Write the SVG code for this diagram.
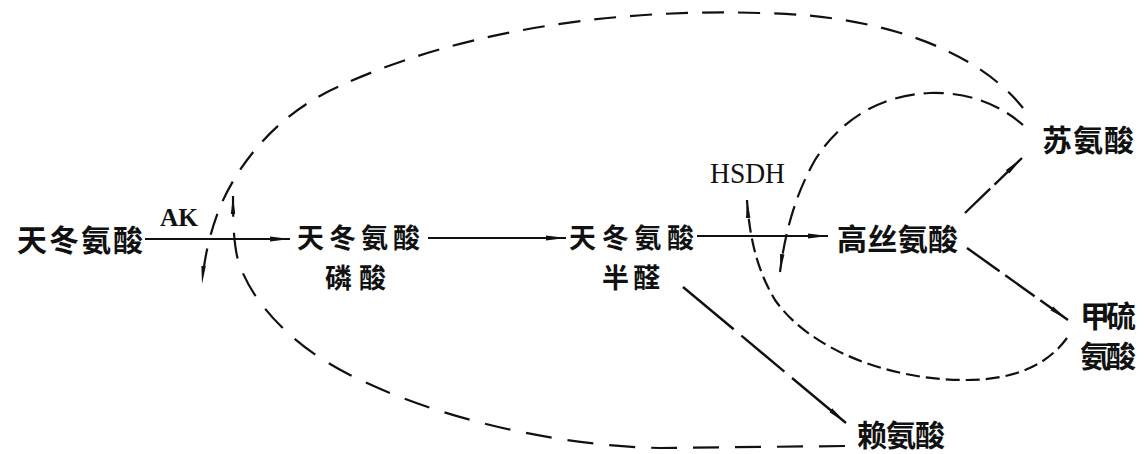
<svg xmlns="http://www.w3.org/2000/svg" width="1144" height="454" viewBox="0 0 1144 454">
  <style>
    .cn { font-family: "Noto Sans CJK SC", "Noto Sans CJK TC", sans-serif; font-size: 30px; font-weight: 700; fill: #111; }
    .c2 { font-size: 27px; }
    .lb { font-family: "Liberation Serif", "DejaVu Serif", serif; fill: #111; }
    .main { fill: none; stroke: #111; stroke-width: 2; }
    .br { fill: none; stroke: #111; stroke-width: 2.4; }
    .fb { fill: none; stroke: #111; stroke-width: 2.2; }
    .big { stroke-dasharray: 22 14; }
    .bot { stroke-dasharray: 26 16; }
    .inT { stroke-dasharray: 20 9; }
    .inB { stroke-dasharray: 14 6; }
  </style>
  <defs>
    <marker id="ah" viewBox="0 0 20 6" refX="20" refY="3" markerWidth="20" markerHeight="6" markerUnits="userSpaceOnUse" orient="auto">
      <path d="M0,0.6 L20,3 L0,5.4 Z" fill="#111"/>
    </marker>
    <marker id="ahs" viewBox="0 0 18 6" refX="18" refY="3" markerWidth="18" markerHeight="6" markerUnits="userSpaceOnUse" orient="auto">
      <path d="M0,0.8 L18,3 L0,5.2 Z" fill="#111"/>
    </marker>
  </defs>
  <rect width="1144" height="454" fill="#fff"/>

  <g id="connectors">
    <!-- main pathway -->
    <path class="main" d="M145,239 L290,239" marker-end="url(#ah)"/>
    <path class="main" d="M428,238 L566,238" marker-end="url(#ah)"/>
    <path class="main" d="M697,236 L828,236" marker-end="url(#ah)"/>
    <!-- branches -->
    <path class="br" d="M683,287 L846,423" stroke-dasharray="66 10 56 10 80" marker-end="url(#ah)"/>
    <path class="br" d="M965,213 L1022,158" stroke-dasharray="35 6 60" marker-end="url(#ah)"/>
    <path class="br" d="M967,248 L1068,320" stroke-dasharray="40 7 36 7 60" marker-end="url(#ah)"/>
    <!-- feedback: threonine -> AK -->
    <path class="fb big" d="M1023,108 C985,60 900,15 760,13 C600,8 450,35 340,86 C280,112 240,160 220,207 C212,228 205,250 202,284" marker-end="url(#ahs)"/>
    <!-- feedback: lysine -> AK -->
    <path class="fb bot" d="M845,446 L660,448 C560,446 440,420 350,375 C290,345 250,300 238,260 C234,245 233,225 233,196" marker-end="url(#ahs)"/>
    <!-- feedback: threonine -> HSDH -->
    <path class="fb inT" d="M1023,125 C1000,105 970,92 930,93 C880,95 840,120 815,160 C798,190 786,225 780,272" marker-end="url(#ahs)"/>
    <!-- feedback: methionine -> HSDH -->
    <path class="fb inB" d="M1067,338 C1045,368 1010,380 965,380 C890,380 810,350 775,300 C760,275 750,245 747,200" marker-end="url(#ahs)"/>
    <!-- enzyme labels -->
    <text class="lb" x="160" y="226" font-size="26" font-weight="700" textLength="38" lengthAdjust="spacingAndGlyphs">AK</text>
    <text class="lb" x="710" y="183" font-size="29" textLength="75" lengthAdjust="spacingAndGlyphs">HSDH</text>
  </g>

  <g id="n-asp">
    <text class="cn" x="17" y="251" textLength="126" lengthAdjust="spacing">天冬氨酸</text>
  </g>
  <g id="n-asp-p">
    <text class="cn c2" x="297" y="248" textLength="123" lengthAdjust="spacing">天冬氨酸</text>
    <text class="cn c2" x="325" y="288" textLength="61" lengthAdjust="spacing">磷酸</text>
  </g>
  <g id="n-asa">
    <text class="cn c2" x="569" y="248" textLength="125" lengthAdjust="spacing">天冬氨酸</text>
    <text class="cn c2" x="602" y="288" textLength="58" lengthAdjust="spacing">半醛</text>
  </g>
  <g id="n-hse">
    <text class="cn" x="837" y="250" textLength="121" lengthAdjust="spacing">高丝氨酸</text>
  </g>
  <g id="n-thr">
    <text class="cn" x="1042" y="151" textLength="92" lengthAdjust="spacing">苏氨酸</text>
  </g>
  <g id="n-met">
    <text class="cn" x="1080" y="327" font-size="25" textLength="56" lengthAdjust="spacing">甲硫</text>
    <text class="cn" x="1080" y="367" font-size="25" textLength="56" lengthAdjust="spacing">氨酸</text>
  </g>
  <g id="n-lys">
    <text class="cn" x="857" y="446" font-size="28" textLength="88" lengthAdjust="spacing">赖氨酸</text>
  </g>
</svg>
